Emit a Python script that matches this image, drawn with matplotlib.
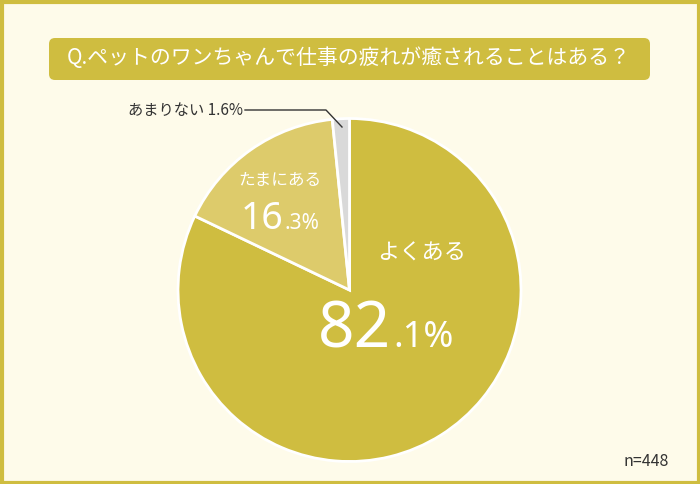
import matplotlib.pyplot as plt
from matplotlib.patches import FancyBboxPatch, Rectangle

plt.rcParams['font.family'] = ['Noto Sans CJK JP', 'DejaVu Sans']

# data
labels = ['よくある', 'たまにある', 'あまりない']
values = [82.1, 16.3, 1.6]
colors = ['#CFBD40', '#DDCB6B', '#D9D9D9']
title = 'Q.ペットのワンちゃんで仕事の疲れが癒されることはある？'
n_text = 'n=448'

W, H = 700, 484
BG = '#FEFBEA'
OLIVE = '#CFBD40'


def py(y):
    # pixel y (top origin) -> data y
    return H - y


fig = plt.figure(figsize=(7, 4.84), dpi=100)
fig.patch.set_facecolor(BG)
ax = fig.add_axes([0, 0, 1, 1])
ax.set_xlim(0, W)
ax.set_ylim(0, H)
ax.set_aspect('equal')
ax.axis('off')

# outer border
ax.add_patch(Rectangle((1.5, 1.5), W - 3, H - 3, fill=False,
                       edgecolor=OLIVE, linewidth=3))

# title box
ax.add_patch(FancyBboxPatch((49, py(80)), 601, 42,
                            boxstyle='round,pad=0,rounding_size=6',
                            facecolor=OLIVE, edgecolor='none'))
ax.text(349, py(58), title, color='white', fontsize=15,
        ha='center', va='center')

# pie
ax.pie(values, colors=colors, startangle=90, counterclock=False,
       center=(349.5, py(290)), radius=171.5, frame=True,
       wedgeprops=dict(edgecolor='white', linewidth=2))
ax.set_xlim(0, W)
ax.set_ylim(0, H)
ax.axis('off')


def split_pct(v):
    whole, frac = f'{v:.1f}'.split('.')
    return whole, '.' + frac + '%'


# main slice labels
big, small = split_pct(values[0])
ax.text(422, py(253), labels[0], color='white', fontsize=16,
        ha='center', va='center')
ax.text(391, py(347), big, color='white',
        fontsize=46, ha='right', va='baseline', family='Noto Sans')
ax.text(393, py(347), small,
        color='white', fontsize=26, ha='left', va='baseline', family='Noto Sans')

big, small = split_pct(values[1])
ax.text(280, py(180), labels[1], color='white', fontsize=12,
        ha='center', va='center')
ax.text(283, py(229), big, color='white',
        fontsize=27, ha='right', va='baseline', family='Noto Sans')
ax.text(284, py(229), small,
        color='white', fontsize=15, ha='left', va='baseline', family='Noto Sans')

# small slice callout
ax.plot([245, 326, 342], [py(110), py(110), py(127)], color='#333333', lw=1)
ax.text(243, py(110), f'{labels[2]} {values[2]:.1f}%', color='#333333',
        fontsize=11, ha='right', va='center')

ax.text(669, py(462), n_text, color='#333333', fontsize=11.5,
        ha='right', va='center')

fig.savefig('out.png', dpi=100, facecolor=BG)
